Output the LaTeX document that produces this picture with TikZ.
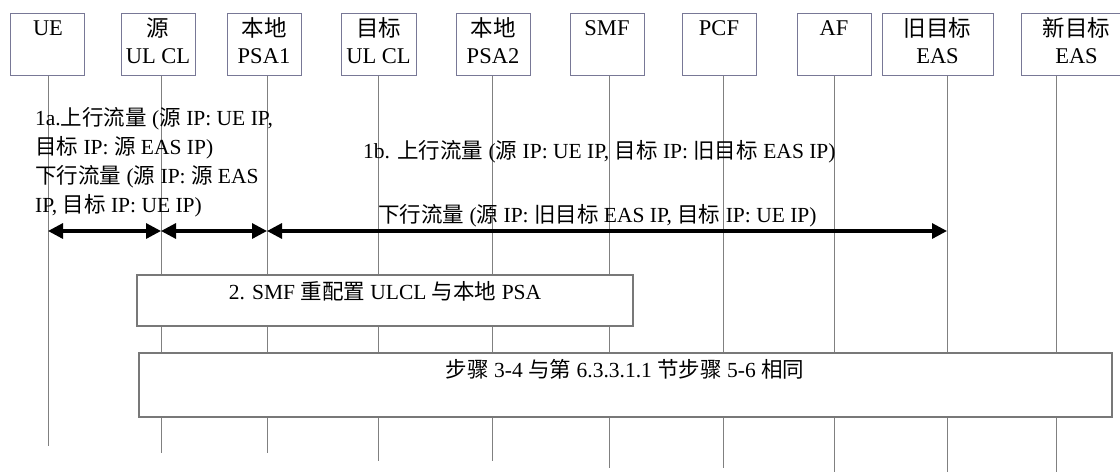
\documentclass[tikz,border=0pt]{standalone}
\usepackage{fontspec}
\setmainfont{Liberation Serif}
\newfontfamily\cjk{Noto Sans CJK SC}
\usetikzlibrary{arrows.meta}
\newcommand\zh[1]{{\cjk #1}}
\definecolor{hdrline}{RGB}{120,120,150}
\definecolor{lifeclr}{RGB}{128,128,128}
\definecolor{boxline}{RGB}{120,120,120}
\begin{document}
\begin{tikzpicture}[x=1pt,y=-1pt,
  hdr/.style={draw=hdrline,line width=1pt,fill=white,rectangle,inner sep=0pt,minimum height=62pt},
  life/.style={draw=lifeclr,line width=1pt},
  stepbox/.style={draw=boxline,line width=1.1pt,fill=white},
  txt/.style={inner sep=0pt,font=\fontsize{21.5}{29}\selectfont},
  htxt/.style={inner sep=0pt,font=\fontsize{22.5}{29}\selectfont},
  flow/.style={line width=3.2pt,{Triangle[length=15pt,width=15pt]}-{Triangle[length=15pt,width=15pt]}}]
\useasboundingbox (0,0) rectangle (1120,472);
% lifeline ends
\coordinate (ueE) at (48,446);
\coordinate (sulE) at (161,453);
\coordinate (psa1E) at (267,453);
\coordinate (tulE) at (378,461);
\coordinate (psa2E) at (492,461);
\coordinate (smfE) at (609,468);
\coordinate (pcfE) at (723,468);
\coordinate (afE) at (834,472);
\coordinate (oeasE) at (947,472);
\coordinate (neasE) at (1056,472);
% header boxes
\node[hdr,minimum width=74pt] (ue) at (47,44) {};
\node[hdr,minimum width=74pt] (sul) at (158,44) {};
\node[hdr,minimum width=74pt] (psa1) at (264,44) {};
\node[hdr,minimum width=75pt] (tul) at (378.5,44) {};
\node[hdr,minimum width=74pt] (psa2) at (493,44) {};
\node[hdr,minimum width=74pt] (smf) at (607,44) {};
\node[hdr,minimum width=74pt] (pcf) at (719,44) {};
\node[hdr,minimum width=74pt] (af) at (834,44) {};
\node[hdr,minimum width=111pt] (oeas) at (937.5,44) {};
\node[hdr,minimum width=111pt] (neas) at (1076.5,44) {};
% lifelines
\foreach \n in {ue,sul,psa1,tul,psa2,smf,pcf,af,oeas,neas}
  \draw[life] (\n.south -| \n E) -- (\n E);
% header texts
\node[htxt,anchor=base] at (48,35) {UE};
\node[htxt,anchor=base] at (158,36) {\zh{源}};
\node[htxt,anchor=base] at (158,63) {UL CL};
\node[htxt,anchor=base] at (264,36) {\zh{本地}};
\node[htxt,anchor=base] at (264,63) {PSA1};
\node[htxt,anchor=base] at (378.5,36) {\zh{目标}};
\node[htxt,anchor=base] at (378.5,63) {UL CL};
\node[htxt,anchor=base] at (493,36) {\zh{本地}};
\node[htxt,anchor=base] at (493,63) {PSA2};
\node[htxt,anchor=base] at (607,35) {SMF};
\node[htxt,anchor=base] at (719,35) {PCF};
\node[htxt,anchor=base] at (834,35) {AF};
\node[htxt,anchor=base] at (937.5,36) {\zh{旧目标}};
\node[htxt,anchor=base] at (937.5,63) {EAS};
\node[htxt,anchor=base] at (1076.5,36) {\zh{新目标}};
\node[htxt,anchor=base] at (1076.5,63) {EAS};
% step 1 texts
\node[txt,anchor=base west,align=left] (t1a) at (35,212)
  {1a.\zh{上行流量} (\zh{源} IP: UE IP,\\
   \zh{目标} IP: \zh{源} EAS IP)\\
   \zh{下行流量} (\zh{源} IP: \zh{源} EAS\\
   IP, \zh{目标} IP: UE IP)};
\node[txt,anchor=base west] (t1b) at (363,158)
  {1b. \zh{上行流量} (\zh{源} IP: UE IP, \zh{目标} IP: \zh{旧目标} EAS IP)};
\node[txt,anchor=base west] (t1bd) at (378,222)
  {\zh{下行流量} (\zh{源} IP: \zh{旧目标} EAS IP, \zh{目标} IP: UE IP)};
% arrows
\coordinate (a0) at (ueE |- 0,231);
\coordinate (a1) at (sulE |- 0,231);
\coordinate (a2) at (psa1E |- 0,231);
\coordinate (a3) at (oeasE |- 0,231);
\draw[flow] (a0) -- (a1);
\draw[flow] (a1) -- (a2);
\draw[flow] (a2) -- (a3);
% step boxes
\draw[stepbox] (137,275) rectangle (633,326);
\node[txt,anchor=base] (s2) at (385,299) {2. SMF \zh{重配置} ULCL \zh{与本地} PSA};
\draw[stepbox] (139,353) rectangle (1112,417);
\node[txt,anchor=base] (s3) at (625,377) {\zh{步骤} 3-4 \zh{与第} 6.3.3.1.1 \zh{节步骤} 5-6 \zh{相同}};
\end{tikzpicture}
\end{document}
